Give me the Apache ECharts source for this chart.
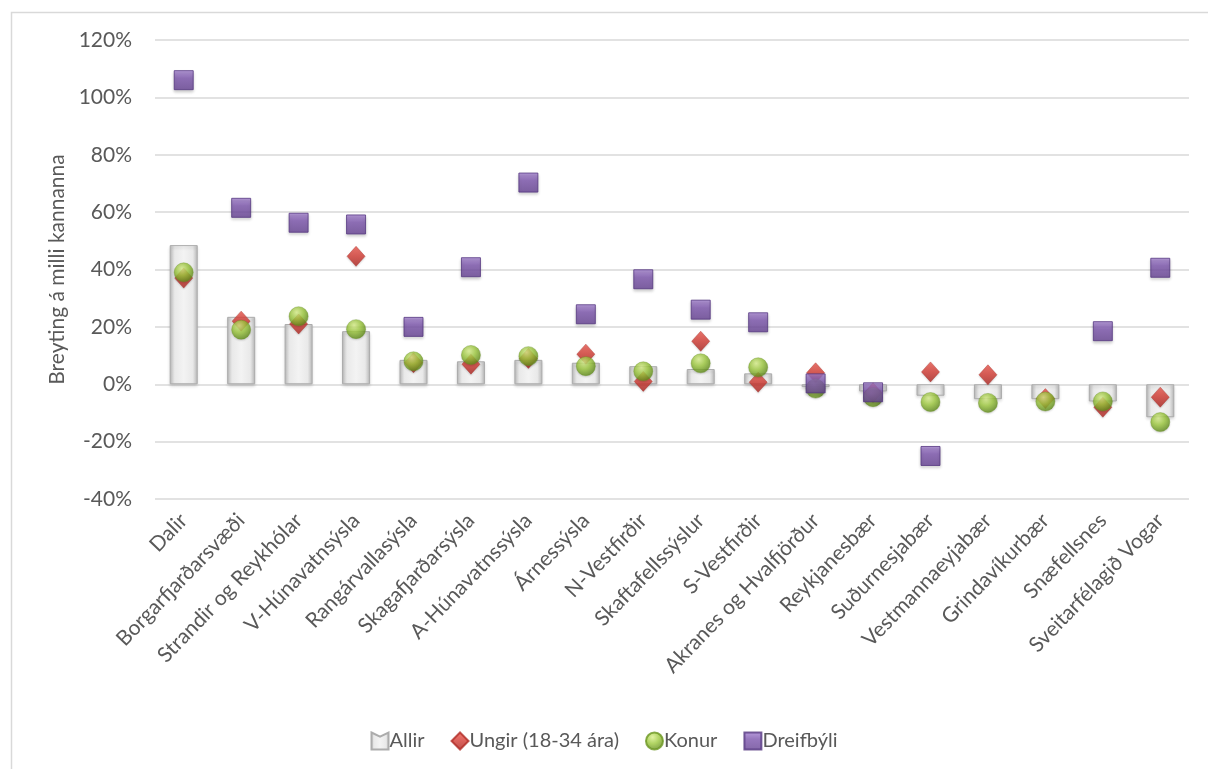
<!DOCTYPE html>
<html>
<head>
<meta charset="utf-8">
<script src="https://cdn.jsdelivr.net/npm/echarts@6/dist/echarts.min.js"></script>
<style>
html,body{margin:0;padding:0;background:#fff;}
#chart{width:1208px;height:769px;}
</style>
</head>
<body>
<div id="chart"></div>
<script>
// ---- data ----
var categories = ['Dalir','Borgarfjarðarsvæði','Strandir og Reykhólar','V-Húnavatnsýsla','Rangárvallasýsla','Skagafjarðarsýsla','A-Húnavatnssýsla','Árnessýsla','N-Vestfirðir','Skaftafellssýslur','S-Vestfirðir','Akranes og Hvalfjörður','Reykjanesbær','Suðurnesjabær','Vestmannaeyjabær','Grindavíkurbær','Snæfellsnes','Sveitarfélagið Vogar'];
var allir     = [48.5, 23.5, 21, 18.5, 8.5, 8, 8.5, 7.5, 6.3, 5.3, 3.8, -1, -2.5, -4, -5.2, -5.2, -6, -11.5];
var ungir     = [37, 22, 21, 44.6, 7.5, 7, 9, 10.5, 1, 15, 0.7, 4, -3, 4.3, 3.3, -5, -8, -4.5];
var konur     = [39, 19, 23.7, 19.2, 8, 10.2, 9.8, 6.3, 4.5, 7.3, 5.9, -1.5, -4.5, -6.2, -6.5, -6, -6, -13.2];
var dreifbyli = [106, 61.5, 56.3, 55.7, 20, 40.8, 70.3, 24.4, 36.6, 26, 21.6, 0.3, -2.8, -25, null, null, 18.5, 40.6];
var yTicks = {min: -40, max: 120, interval: 20};
var seriesNames = ['Allir', 'Ungir (18-34 ára)', 'Konur', 'Dreifbýli'];

var txt = '#595959';
var font = 'Lato, "Open Sans", sans-serif';

var chart = echarts.init(document.getElementById('chart'), null, {renderer: 'canvas'});
chart.setOption({
  backgroundColor: '#fff',
  animation: false,
  textStyle: {fontFamily: font},
  graphic: [{
    type: 'rect', left: 9, top: 10, silent: true, z: -10,
    shape: {width: 1260, height: 820},
    style: {fill: 'none', stroke: '#d9d9d9', lineWidth: 1.5}
  }],
  grid: {left: 155, right: 19, top: 40, bottom: 270, containLabel: false},
  legend: {
    data: [
      {name: seriesNames[0], icon: 'path://M0,0 L10,5 L20,0 L20,20 L0,20 Z'},
      {name: seriesNames[1], icon: 'diamond'},
      {name: seriesNames[2], icon: 'circle'},
      {name: seriesNames[3], icon: 'rect'}
    ],
    left: 'center', top: 726,
    itemWidth: 17, itemHeight: 17, itemGap: 26,
    textStyle: {color: txt, fontSize: 20, fontFamily: font, padding: [0, 0, 0, -4]}
  },
  xAxis: {
    type: 'category',
    data: categories,
    axisLine: {show: false, onZero: false},
    axisTick: {show: false},
    axisLabel: {rotate: 46, color: txt, fontSize: 21, fontFamily: font, margin: 18, interval: 0}
  },
  yAxis: {
    type: 'value',
    min: yTicks.min, max: yTicks.max, interval: yTicks.interval,
    name: 'Breyting á milli kannanna',
    nameLocation: 'middle', nameGap: 84,
    nameTextStyle: {color: txt, fontSize: 21, fontFamily: font},
    axisLine: {show: false},
    axisTick: {show: false},
    axisLabel: {formatter: '{value}%', color: txt, fontSize: 21, fontFamily: font, margin: 23},
    splitLine: {lineStyle: {color: '#d9d9d9', width: 1.5}}
  },
  series: [
    {
      name: seriesNames[0], type: 'bar', data: allir, barWidth: 28,
      itemStyle: {
        color: new echarts.graphic.LinearGradient(0, 0, 1, 0, [
          {offset: 0, color: '#bcbcbc'},
          {offset: 0.18, color: '#e9e9e9'},
          {offset: 0.5, color: '#f3f3f3'},
          {offset: 0.82, color: '#e9e9e9'},
          {offset: 1, color: '#bcbcbc'}
        ]),
        borderColor: '#acacac', borderWidth: 1,
        shadowColor: 'rgba(0,0,0,0.15)', shadowBlur: 3, shadowOffsetY: 2
      },
      z: 2
    },
    {
      name: seriesNames[1], type: 'scatter', data: ungir, symbol: 'diamond', symbolSize: [18, 20],
      itemStyle: {
        color: new echarts.graphic.LinearGradient(0, 0, 0, 1, [
          {offset: 0, color: '#ee5a50'},
          {offset: 0.5, color: '#d23a32'},
          {offset: 1, color: '#a82420'}
        ]),
        borderColor: '#b02a24', borderWidth: 0.5,
        shadowColor: 'rgba(0,0,0,0.2)', shadowBlur: 2, shadowOffsetY: 1
      },
      z: 3
    },
    {
      name: seriesNames[2], type: 'scatter', data: konur, symbol: 'circle', symbolSize: 19,
      itemStyle: {
        color: new echarts.graphic.RadialGradient(0.4, 0.3, 0.7, [
          {offset: 0, color: '#d8ef8a'},
          {offset: 0.5, color: '#9cc83c'},
          {offset: 1, color: '#5f8a1a'}
        ]),
        borderColor: '#6c9622', borderWidth: 0.5,
        shadowColor: 'rgba(0,0,0,0.2)', shadowBlur: 2, shadowOffsetY: 1
      },
      z: 4
    },
    {
      name: seriesNames[3], type: 'scatter', data: dreifbyli, symbol: 'rect', symbolSize: 19,
      itemStyle: {
        color: new echarts.graphic.LinearGradient(0, 0, 0, 1, [
          {offset: 0, color: '#a784d4'},
          {offset: 0.4, color: '#7c55ad'},
          {offset: 1, color: '#664293'}
        ]),
        borderColor: '#553781', borderWidth: 1,
        shadowColor: 'rgba(0,0,0,0.25)', shadowBlur: 3, shadowOffsetY: 2
      },
      z: 5
    }
  ]
});
</script>
</body>
</html>
